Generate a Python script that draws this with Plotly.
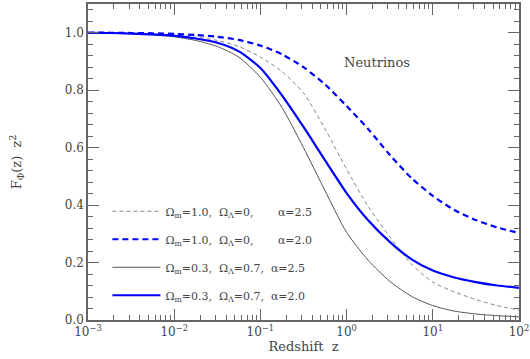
import plotly.graph_objects as go

log_z = [-3, -2.75, -2.5, -2.25, -2, -1.75, -1.5, -1.25, -1, -0.75, -0.5, -0.25,
         0, 0.25, 0.5, 0.75, 1.0, 1.25, 1.5, 1.75, 2.0]
z = [10 ** v for v in log_z]

# Omega_m=1.0, Omega_L=0, alpha=2.5 (gray dashed)
f_m1_a25 = [1.0, 0.999, 0.998, 0.996, 0.992, 0.985, 0.973, 0.952, 0.915, 0.865, 0.79, 0.665,
            0.525, 0.395, 0.29, 0.195, 0.132, 0.098, 0.071, 0.05, 0.034]
# Omega_m=1.0, Omega_L=0, alpha=2.0 (blue dashed)
f_m1_a20 = [1.0, 1.0, 0.999, 0.998, 0.996, 0.992, 0.986, 0.975, 0.955, 0.925, 0.88, 0.82,
            0.745, 0.665, 0.575, 0.495, 0.432, 0.383, 0.348, 0.322, 0.303]
# Omega_m=0.3, Omega_L=0.7, alpha=2.5 (thin dark solid)
f_m03_a25 = [1.0, 0.999, 0.997, 0.993, 0.986, 0.973, 0.952, 0.915, 0.845, 0.74, 0.60, 0.45,
             0.305, 0.208, 0.135, 0.083, 0.05, 0.031, 0.021, 0.015, 0.011]
# Omega_m=0.3, Omega_L=0.7, alpha=2.0 (blue solid)
f_m03_a20 = [1.0, 0.999, 0.997, 0.994, 0.989, 0.98, 0.965, 0.935, 0.877, 0.782, 0.672, 0.556,
             0.442, 0.347, 0.272, 0.212, 0.172, 0.148, 0.132, 0.12, 0.112]

labels = [
    "Ω<sub>m</sub>=1.0,  Ω<sub>Λ</sub>=0,       α=2.5",
    "Ω<sub>m</sub>=1.0,  Ω<sub>Λ</sub>=0,       α=2.0",
    "Ω<sub>m</sub>=0.3,  Ω<sub>Λ</sub>=0.7,  α=2.5",
    "Ω<sub>m</sub>=0.3,  Ω<sub>Λ</sub>=0.7,  α=2.0",
]
x_tick_vals = [1e-3, 1e-2, 1e-1, 1e0, 1e1, 1e2]
x_tick_text = ["10<sup>−3</sup>", "10<sup>−2</sup>", "10<sup>−1</sup>",
               "10<sup>0</sup>", "10<sup>1</sup>", "10<sup>2</sup>"]
y_tick_vals = [0, 0.2, 0.4, 0.6, 0.8, 1.0]
y_tick_text = ["0.0", "0.2", "0.4", "0.6", "0.8", "1.0"]

series = [f_m1_a25, f_m1_a20, f_m03_a25, f_m03_a20]
styles = [
    dict(color="#888888", width=1, dash="4px,3px"),
    dict(color="#0000ff", width=2.2, dash="6px,4px"),
    dict(color="#555555", width=1, dash="solid"),
    dict(color="#0000ff", width=2.2, dash="solid"),
]

fig = go.Figure()
for i, (ys, st, lab) in enumerate(zip(series, styles, labels)):
    fig.add_trace(go.Scatter(
        x=z, y=ys, mode="lines",
        name=lab.replace("  ", "\u00a0\u00a0").replace(" ", "\u00a0"),
        line=dict(shape="spline", smoothing=0.7, **st),
        legendgroup=f"g{i}",
    ))

minor_x = [m * 10 ** k for k in range(-3, 2) for m in range(2, 10)]
axis_col = "#666666"
font_fam = "DejaVu Serif, Liberation Serif, serif"

fig.update_layout(
    width=530, height=359,
    margin=dict(l=88, r=11, t=4, b=39),
    paper_bgcolor="white", plot_bgcolor="white",
    font=dict(family=font_fam, size=12, color="#444444"),
    showlegend=True,
    legend=dict(
        x=0.045, y=0.39, xanchor="left", yanchor="top",
        bgcolor="rgba(0,0,0,0)", font=dict(size=11, color="#444444"),
        traceorder="grouped", tracegroupgap=9, itemwidth=48,
    ),
    xaxis=dict(
        type="log", range=[-3, 2], automargin=False,
        tickvals=x_tick_vals, ticktext=x_tick_text,
        ticks="inside", ticklen=11, tickcolor=axis_col, tickwidth=1,
        showline=True, linecolor=axis_col, linewidth=1.5, mirror="allticks",
        showgrid=False, zeroline=False,
        minor=dict(tickvals=minor_x, ticks="inside", ticklen=5, tickcolor=axis_col, showgrid=False),
        title=dict(text="Redshift  z", standoff=2, font=dict(size=13)),
        tickfont=dict(size=12),
    ),
    yaxis=dict(
        range=[0, 1.1], automargin=False,
        tickvals=y_tick_vals, ticktext=y_tick_text,
        ticks="inside", ticklen=11, tickcolor=axis_col, tickwidth=1,
        showline=True, linecolor=axis_col, linewidth=1.5, mirror="allticks",
        showgrid=False, zeroline=False,
        minor=dict(dtick=0.04, ticks="inside", ticklen=5, tickcolor=axis_col, showgrid=False),
        title=dict(text="F<sub>Φ</sub>(z)  z<sup>2</sup>", standoff=40, font=dict(size=13)),
        tickfont=dict(size=12),
    ),
    annotations=[dict(
        text="Neutrinos", x=0.67, y=0.815, xref="paper", yref="paper",
        xanchor="center", yanchor="middle",
        showarrow=False, font=dict(size=13, color="#444444"),
    )],
)

fig.write_html("out.html", config={"displayModeBar": False},
               post_script="document.body.style.margin='0px';")
